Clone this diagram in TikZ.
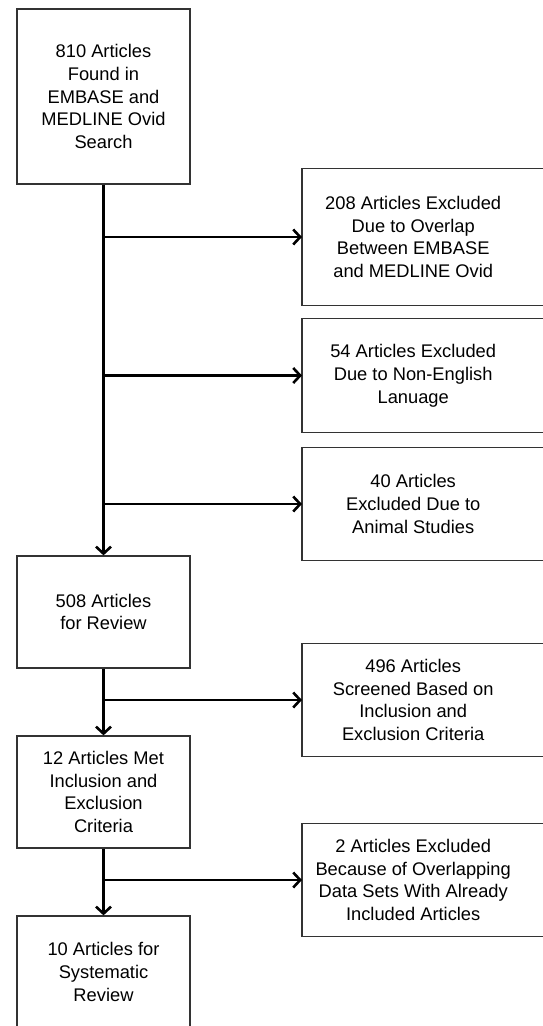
\documentclass[tikz,border=0pt]{standalone}
\usepackage{fontspec}
\setmainfont{Liberation Sans}
\usetikzlibrary{positioning,arrows.meta}

\tikzset{
    boxline/.style={draw=black!80, line width=1.2pt},
    stepbox/.style={boxline, minimum width=173, minimum height=112, align=center,
        font=\fontsize{18.3}{22.8}\selectfont},
    exbox/.style={minimum width=222, minimum height=113, align=center, anchor=west,
        font=\fontsize{18.3}{22.8}\selectfont},
    flow/.style={line width=2.6pt, -{Straight Barb[length=7pt,width=15pt]}}
}

\begin{document}
\begin{tikzpicture}[x=1pt, y=-1pt]
    \useasboundingbox (0,0) rectangle (542,1026);

    % main column
    \node[stepbox, minimum height=175] (found) at (103.5,96.5)
        {810 Articles\\Found in\\EMBASE and\\MEDLINE Ovid\\Search};
    \node[stepbox] (review) at (103.5,612) {508 Articles\\for Review};
    \node[stepbox] (met) at (103.5,792)
        {12 Articles Met\\Inclusion and\\Exclusion\\Criteria};
    \node[stepbox] (final) at (103.5,972) {10 Articles for\\Systematic\\Review};

    % excluded articles
    \node[exbox, minimum height=136] (overlap) at (302,237)
        {208 Articles Excluded\\Due to Overlap\\Between EMBASE\\and MEDLINE Ovid};
    \node[exbox] (english) at (302,375.5)
        {54 Articles Excluded\\Due to Non-English\\Lanuage};
    \node[exbox] (animal) at (302,504)
        {40 Articles\\Excluded Due to\\Animal Studies};
    \node[exbox] (screened) at (302,700)
        {496 Articles\\Screened Based on\\Inclusion and\\Exclusion Criteria};
    \node[exbox] (overlapdata) at (302,880)
        {2 Articles Excluded\\Because of Overlapping\\Data Sets With Already\\Included Articles};

    % right boxes run past the page edge
    \foreach \n in {overlap,english,animal,screened,overlapdata}
        \draw[boxline] (\n.north west) rectangle ([xshift=40pt]\n.south east);

    \draw[flow] (found) -- (review);
    \draw[flow] (review) -- (met);
    \draw[flow] (met) -- (final);

    \draw[flow] (found.south |- overlap.west) -- (overlap.west);
    \draw[flow] (found.south |- english.west) -- (english.west);
    \draw[flow] (found.south |- animal.west) -- (animal.west);
    \draw[flow] (review.south |- screened.west) -- (screened.west);
    \draw[flow] (met.south |- overlapdata.west) -- (overlapdata.west);
\end{tikzpicture}
\end{document}
